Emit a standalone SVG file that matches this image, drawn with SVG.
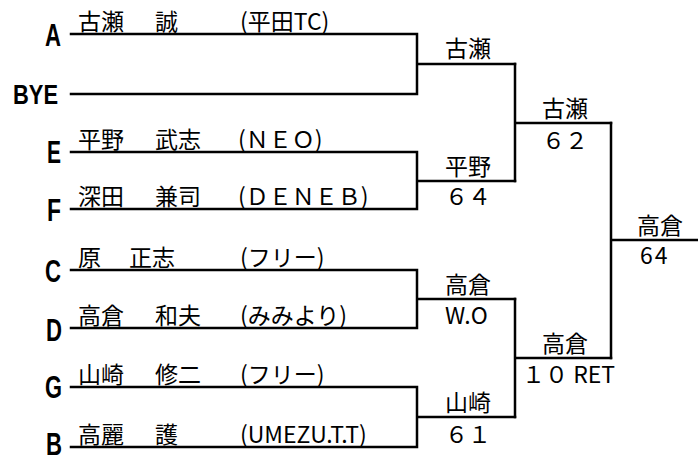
<svg xmlns="http://www.w3.org/2000/svg" width="698" height="459" viewBox="0 0 698 459">
<style>
.bg{fill:#ffffff}
.ln{fill:none;stroke:#000000;stroke-width:2.5;stroke-linecap:square;stroke-linejoin:miter}
.lt{font-family:"Liberation Sans Narrow","Liberation Sans","DejaVu Sans",sans-serif;font-weight:bold;font-size:31px;fill:#000000}
.tx{font-family:"Noto Sans CJK JP","Noto Sans",sans-serif;font-size:23px;fill:#000000}
</style>
<rect class="bg" x="0" y="0" width="698" height="459"/>
<g id="connectors">
<path class="ln" d="M71,34 H417 V94 H71 M417,64 H515"/>
<path class="ln" d="M71,152 H417 V209 H71 M417,181 H515"/>
<path class="ln" d="M71,270 H417 V328 H71 M417,299 H515"/>
<path class="ln" d="M71,387 H417 V447 H71 M417,417 H515"/>
<path class="ln" d="M515,64 V181 M515,123 H611"/>
<path class="ln" d="M515,299 V417 M515,358 H611"/>
<path class="ln" d="M611,123 V358 M611,240 H698"/>
</g>
<g id="player-A">
<text class="lt" x="45" y="46" textLength="16" lengthAdjust="spacingAndGlyphs">A</text>
<text class="tx" y="29.5"><tspan x="78">古瀬</tspan><tspan x="155">誠</tspan><tspan x="240">(平田TC)</tspan></text>
</g>
<g id="player-BYE">
<text class="lt" x="13" y="104" style="font-size:27px" textLength="45" lengthAdjust="spacingAndGlyphs">BYE</text>
</g>
<g id="player-E">
<text class="lt" x="47" y="163" textLength="14" lengthAdjust="spacingAndGlyphs">E</text>
<text class="tx" y="147.5"><tspan x="78">平野</tspan><tspan x="155">武志</tspan><tspan x="238">(ＮＥＯ)</tspan></text>
</g>
<g id="player-F">
<text class="lt" x="47" y="221" textLength="14" lengthAdjust="spacingAndGlyphs">F</text>
<text class="tx" y="204.5"><tspan x="78">深田</tspan><tspan x="155">兼司</tspan><tspan x="238">(ＤＥＮＥＢ)</tspan></text>
</g>
<g id="player-C">
<text class="lt" x="45" y="282" textLength="16" lengthAdjust="spacingAndGlyphs">C</text>
<text class="tx" y="265.5"><tspan x="78">原</tspan><tspan x="129">正志</tspan><tspan x="240">(フリー)</tspan></text>
</g>
<g id="player-D">
<text class="lt" x="46" y="341" textLength="16" lengthAdjust="spacingAndGlyphs">D</text>
<text class="tx" y="323.5"><tspan x="78">高倉</tspan><tspan x="155">和夫</tspan><tspan x="240">(みみより)</tspan></text>
</g>
<g id="player-G">
<text class="lt" x="45" y="398" textLength="17" lengthAdjust="spacingAndGlyphs">G</text>
<text class="tx" y="382.5"><tspan x="78">山崎</tspan><tspan x="155">修二</tspan><tspan x="240">(フリー)</tspan></text>
</g>
<g id="player-B">
<text class="lt" x="46" y="455" textLength="16" lengthAdjust="spacingAndGlyphs">B</text>
<text class="tx" y="442.5"><tspan x="78">高麗</tspan><tspan x="155">護</tspan><tspan x="240">(UMEZU.T.T)</tspan></text>
</g>
<g id="r1-m1">
<text class="tx" x="445" y="57">古瀬</text>
</g>
<g id="r1-m2">
<text class="tx" x="445" y="175">平野</text>
<text class="tx" x="445" y="205">６４</text>
</g>
<g id="r1-m3">
<text class="tx" x="445" y="293">高倉</text>
<text class="tx" x="445" y="324">W.O</text>
</g>
<g id="r1-m4">
<text class="tx" x="445" y="411">山崎</text>
<text class="tx" x="445" y="443">６１</text>
</g>
<g id="r2-m1">
<text class="tx" x="542" y="117">古瀬</text>
<text class="tx" x="542" y="149">６２</text>
</g>
<g id="r2-m2">
<text class="tx" x="542" y="352">高倉</text>
<text class="tx" x="522" y="383">１０ RET</text>
</g>
<g id="final">
<text class="tx" x="637" y="234">高倉</text>
<text class="tx" x="640" y="264" letter-spacing="2">64</text>
</g>
</svg>
